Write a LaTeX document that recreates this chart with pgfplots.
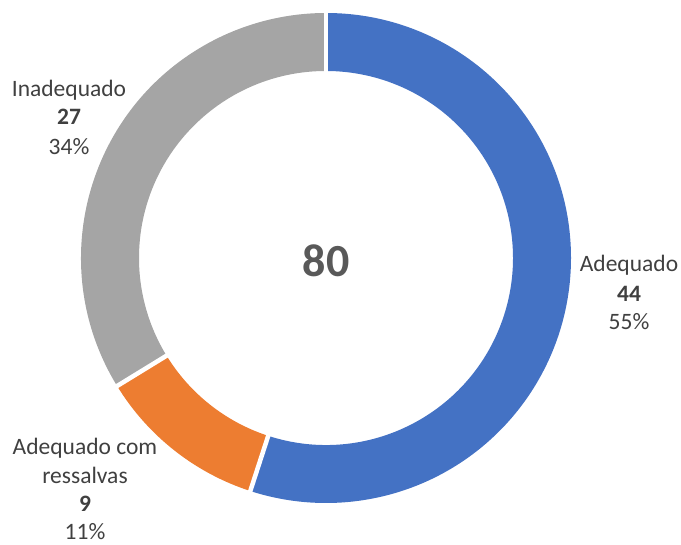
\documentclass[border=0pt]{standalone}
\usepackage{fontspec}
\setmainfont{Carlito}
\usepackage{pgfplots}
\usepackage{pgfplotstable}
\pgfplotsset{compat=1.18}
\definecolor{cA}{HTML}{4472C4}
\definecolor{cB}{HTML}{ED7D31}
\definecolor{cC}{HTML}{A5A5A5}
\definecolor{txt}{HTML}{404040}
\definecolor{ctr}{HTML}{595959}
\pgfplotstableread{
value
44
9
27
}\donutdata
\begin{document}
\begin{tikzpicture}
\pgfplotstablegetelem{0}{value}\of\donutdata \let\va\pgfplotsretval
\pgfplotstablegetelem{1}{value}\of\donutdata \let\vb\pgfplotsretval
\pgfplotstablegetelem{2}{value}\of\donutdata \let\vc\pgfplotsretval
\pgfmathsetmacro{\tot}{\va+\vb+\vc}
\pgfmathsetmacro{\aA}{90}
\pgfmathsetmacro{\aB}{90-360*\va/\tot}
\pgfmathsetmacro{\aC}{\aB-360*\vb/\tot}
\pgfmathsetmacro{\aD}{\aC-360*\vc/\tot}
\pgfmathsetmacro{\pA}{round(100*\va/\tot)}
\pgfmathsetmacro{\pB}{round(100*\vb/\tot)}
\pgfmathsetmacro{\pC}{round(100*\vc/\tot)}
\pgfmathtruncatemacro{\tA}{\va}
\pgfmathtruncatemacro{\tB}{\vb}
\pgfmathtruncatemacro{\tC}{\vc}
\pgfmathtruncatemacro{\tT}{\tot}
\pgfmathtruncatemacro{\qA}{\pA}
\pgfmathtruncatemacro{\qB}{\pB}
\pgfmathtruncatemacro{\qC}{\pC}
\begin{axis}[width=681bp,height=545bp,scale only axis,hide axis,clip=false,
  xmin=0,xmax=681,ymin=0,ymax=545]
\path (0,0) rectangle (681,545);
\fill[cA] (326,287) ++(\aA:245bp) arc[start angle=\aA,end angle=\aB,radius=245bp]
  -- ++({\aB+180}:58bp) arc[start angle=\aB,end angle=\aA,radius=187bp] -- cycle;
\fill[cB] (326,287) ++(\aB:245bp) arc[start angle=\aB,end angle=\aC,radius=245bp]
  -- ++({\aC+180}:58bp) arc[start angle=\aC,end angle=\aB,radius=187bp] -- cycle;
\fill[cC] (326,287) ++(\aC:245bp) arc[start angle=\aC,end angle=\aD,radius=245bp]
  -- ++({\aD+180}:58bp) arc[start angle=\aD,end angle=\aC,radius=187bp] -- cycle;
\draw[white,line width=4.5bp] (326,287) ++(\aA:184bp) -- ++(\aA:64bp);
\draw[white,line width=4.5bp] (326,287) ++(\aB:184bp) -- ++(\aB:64bp);
\draw[white,line width=4.5bp] (326,287) ++(\aC:184bp) -- ++(\aC:64bp);
\node[anchor=base,text=ctr,font=\fontsize{46bp}{50bp}\selectfont\bfseries] at (326,268) {\tT};
\begin{scope}[every node/.style={anchor=base,text=txt,inner sep=0pt,font=\fontsize{23.5bp}{28bp}\selectfont}]
\node at (629,273) {Adequado};
\node[font=\fontsize{23.5bp}{28bp}\selectfont\bfseries] at (629,243) {\tA};
\node at (629,215) {\qA\%};
\node at (69,448) {Inadequado};
\node[font=\fontsize{23.5bp}{28bp}\selectfont\bfseries] at (69,420) {\tC};
\node at (69,390) {\qC\%};
\node at (85,90) {Adequado com};
\node at (85,61) {ressalvas};
\node[font=\fontsize{23.5bp}{28bp}\selectfont\bfseries] at (85,33) {\tB};
\node at (85,6) {\qB\%};
\end{scope}
\end{axis}
\end{tikzpicture}
\end{document}
